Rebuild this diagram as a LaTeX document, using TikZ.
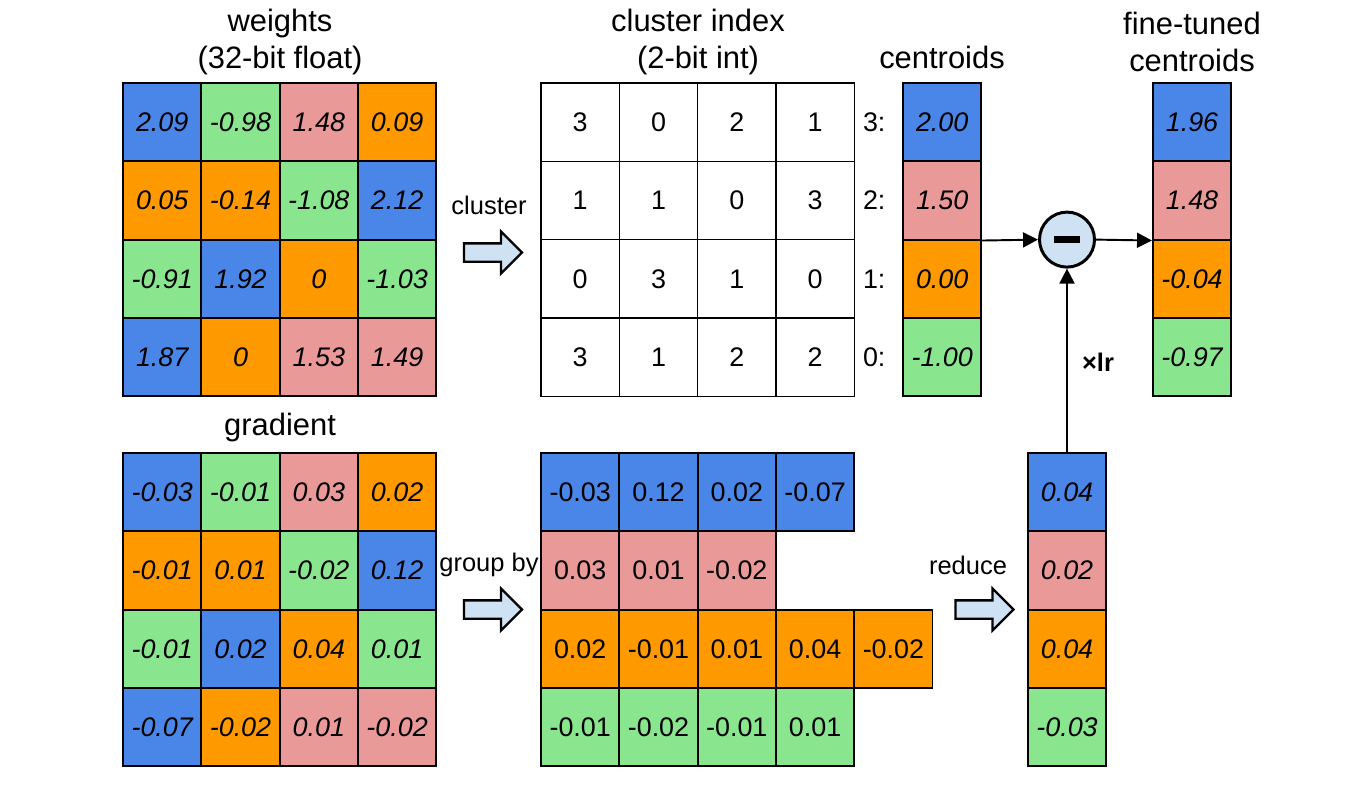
\documentclass[tikz,border=0pt]{standalone}
\usepackage{fontspec}
\setmainfont{Liberation Sans}
\usetikzlibrary{arrows.meta,shapes.arrows,positioning,calc}
\definecolor{CBlue}  {RGB}{74, 134,232}
\definecolor{CGreen} {RGB}{137,230,143}
\definecolor{CPink}  {RGB}{234,153,153}
\definecolor{COrange}{RGB}{255,153,  0}
\definecolor{CLight} {RGB}{207,226,243}

\begin{document}
\begin{tikzpicture}[x=0.02cm,y=-0.02cm,
    cell/.style={draw,line width=1pt,minimum size=1.566cm,inner sep=0pt,font=\fontsize{15.3}{18}\selectfont\itshape},
    upcell/.style={cell,font=\fontsize{15.3}{18}\selectfont},
    idxcell/.style={upcell,line width=0.8pt},
    title/.style={font=\fontsize{17.6}{21}\selectfont,align=center},
    lbl/.style={font=\fontsize{14.5}{17}\selectfont},
    blockarrow/.style={single arrow,draw,line width=1.3pt,fill=CLight,minimum height=1.16cm,
      single arrow head extend=0.24cm,single arrow head indent=0pt,inner xsep=0pt,inner ysep=0.16cm},
    conn/.style={line width=1.1pt,-{Triangle[length=8.5pt,width=8.5pt]}}]
  \useasboundingbox (0,0) rectangle (1372,789);

  % weights and gradient share the colour layout
  \foreach \v/\g/\c [count=\k from 0] in {2.09/-0.03/CBlue,-0.98/-0.01/CGreen,1.48/0.03/CPink,0.09/0.02/COrange,
      0.05/-0.01/COrange,-0.14/0.01/COrange,-1.08/-0.02/CGreen,2.12/0.12/CBlue,
      -0.91/-0.01/CGreen,1.92/0.02/CBlue,0/0.04/COrange,-1.03/0.01/CGreen,
      1.87/-0.07/CBlue,0/-0.02/COrange,1.53/0.01/CPink,1.49/-0.02/CPink}{
    \pgfmathtruncatemacro{\r}{div(\k,4)}
    \pgfmathtruncatemacro{\q}{mod(\k,4)}
    \node[cell,fill=\c] (w-\r-\q) at ({162.2+78.3*\q},{122.2+78.3*\r}) {\v};
    \node[cell,fill=\c] (g-\r-\q) at ({162.2+78.3*\q},{492.2+78.3*\r}) {\g};
  }
  \node[title] at (280,42) {weights\\(32-bit float)};
  \node[title] at (280,427) {gradient};

  % cluster index
  \foreach \v [count=\k from 0] in {3,0,2,1, 1,1,0,3, 0,3,1,0, 3,1,2,2}{
    \pgfmathtruncatemacro{\r}{div(\k,4)}
    \pgfmathtruncatemacro{\q}{mod(\k,4)}
    \node[idxcell] (k-\r-\q) at ({580.2+78.3*\q},{122.2+78.3*\r}) {\v};
  }
  \node[title] at (698,42) {cluster index\\(2-bit int)};

  % centroids and fine-tuned centroids
  \foreach \v/\f/\c [count=\r from 0] in {2.00/1.96/CBlue,1.50/1.48/CPink,0.00/-0.04/COrange,-1.00/-0.97/CGreen}{
    \node[cell,fill=\c] (c-\r) at (942.2,{122.2+78.3*\r}) {\v};
    \node[cell,fill=\c] (f-\r) at (1192,{122.2+78.3*\r}) {\f};
  }
  \foreach \n [count=\r from 0] in {3,2,1,0}
    \node[lbl,font=\fontsize{15.3}{18}\selectfont,left=6pt of c-\r] (cl-\r) {\n:};
  \node[title] at (942,57) {centroids};
  \node[title] at (1192,42) {fine-tuned\\centroids};

  % grouped gradients
  \foreach \v [count=\q from 0] in {-0.03,0.12,0.02,-0.07}
    \node[upcell,fill=CBlue] (b-0-\q) at ({580.2+78.3*\q},492.2) {\v};
  \foreach \v [count=\q from 0] in {0.03,0.01,-0.02}
    \node[upcell,fill=CPink] (b-1-\q) at ({580.2+78.3*\q},570.5) {\v};
  \foreach \v [count=\q from 0] in {0.02,-0.01,0.01,0.04,-0.02}
    \node[upcell,fill=COrange] (b-2-\q) at ({580.2+78.3*\q},648.8) {\v};
  \foreach \v [count=\q from 0] in {-0.01,-0.02,-0.01,0.01}
    \node[upcell,fill=CGreen] (b-3-\q) at ({580.2+78.3*\q},727.1) {\v};

  % reduced gradient
  \foreach \v/\c [count=\r from 0] in {0.04/CBlue,0.02/CPink,0.04/COrange,-0.03/CGreen}
    \node[cell,fill=\c] (r-\r) at (1067,{492.2+78.3*\r}) {\v};

  % block arrows
  \node[blockarrow] (a1) at (488.5,252.5) {};
  \node[lbl] at (489,205) {cluster};
  \node[blockarrow] (a2) at (488.5,609.5) {};
  \node[lbl] at (489,565) {group by};
  \node[blockarrow] (a3) at (980,609.5) {};
  \node[lbl] at (968,565) {reduce};

  % update
  \node[circle,draw,line width=1.7pt,fill=CLight,minimum size=1.1cm,inner sep=0pt] (minus) at (1067,239.6) {};
  \fill ($(minus)+(-13,-3.5)$) rectangle ($(minus)+(13,3.5)$);
  \draw[conn] (c-1.south east) -- (minus.west);
  \draw[conn] (minus.east) -- (f-1.south west);
  \draw[conn] (r-0.north) -- (minus.south);
  \node[lbl,font=\fontsize{14.5}{17}\selectfont\bfseries] at (1098,362) {×lr};
\end{tikzpicture}
\end{document}
